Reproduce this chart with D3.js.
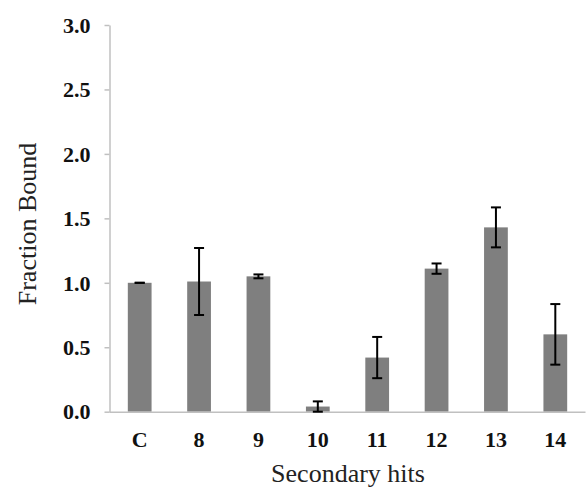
<!DOCTYPE html>
<html>
<head>
<meta charset="utf-8">
<script src="https://cdn.jsdelivr.net/npm/d3@7"></script>
<style>
  html, body { margin: 0; padding: 0; background: #fff; }
  svg { display: block; }
  svg text { font-family: "Liberation Serif", "Times New Roman", "DejaVu Serif", serif; }
</style>
</head>
<body>
<svg id="chart" width="587" height="494"></svg>
<script>
const categories = ["C", "8", "9", "10", "11", "12", "13", "14"];
const values = [1.00, 1.01, 1.05, 0.04, 0.42, 1.11, 1.43, 0.60];
const errors = [0.00, 0.26, 0.015, 0.04, 0.16, 0.04, 0.155, 0.235];
const yTicks = [0, 0.5, 1.0, 1.5, 2.0, 2.5, 3.0];

const svg = d3.select("#chart");
const plotLeft = 109.5, plotRight = 585.5, plotTop = 25, plotBottom = 411.7;

const x = d3.scaleBand().domain(categories).range([110, 585]).paddingInner(0.6).paddingOuter(0.3);
const y = d3.scaleLinear().domain([0, 3]).range([plotBottom, plotTop]);

const font = '"Liberation Serif", "Times New Roman", "DejaVu Serif", serif';
const axisColor = "#c0c0c0";

// Y axis
const yAxis = svg.append("g")
  .attr("transform", `translate(${plotLeft},0)`)
  .call(d3.axisLeft(y).tickValues(yTicks).tickFormat(d3.format(".1f")).tickSize(5).tickSizeOuter(0).tickPadding(14));
yAxis.attr("font-family", null).attr("font-size", null);
yAxis.select(".domain").attr("stroke", axisColor).attr("stroke-width", 1.5);
yAxis.selectAll(".tick line").attr("stroke", axisColor).attr("stroke-width", 1.5);
yAxis.selectAll(".tick text")
  .style("font-family", font).style("font-size", "22px").style("font-weight", "bold")
  .attr("fill", "#111").attr("dy", "0.33em");

// Bars
svg.append("g").selectAll("rect").data(categories).join("rect")
  .attr("x", (d) => x(d))
  .attr("y", (d, i) => y(values[i]))
  .attr("width", x.bandwidth())
  .attr("height", (d, i) => y(0) - y(values[i]))
  .attr("fill", "#7f7f7f");

// X axis
const xAxis = svg.append("g")
  .attr("transform", `translate(0,${plotBottom})`)
  .call(d3.axisBottom(x).tickSize(0).tickSizeOuter(0).tickPadding(0));
xAxis.attr("font-family", null).attr("font-size", null);
xAxis.select(".domain").attr("d", `M${plotLeft},0.5H${plotRight}`).attr("stroke", axisColor).attr("stroke-width", 1.5);
xAxis.selectAll(".tick text")
  .style("font-family", font).style("font-size", "22px").style("font-weight", "bold")
  .attr("fill", "#111").attr("y", 35.5).attr("dy", 0);

// Error bars
const eb = svg.append("g").attr("stroke", "#000").attr("stroke-width", 2).attr("fill", "none");
categories.forEach((c, i) => {
  const cx = x(c) + x.bandwidth() / 2;
  const yHi = y(values[i] + errors[i]);
  const yLo = y(values[i] - errors[i]);
  eb.append("line").attr("x1", cx).attr("x2", cx).attr("y1", yHi).attr("y2", yLo);
  eb.append("line").attr("x1", cx - 5).attr("x2", cx + 5).attr("y1", yHi).attr("y2", yHi);
  eb.append("line").attr("x1", cx - 5).attr("x2", cx + 5).attr("y1", yLo).attr("y2", yLo);
});

// Axis titles
svg.append("text")
  .attr("x", 348).attr("y", 482)
  .attr("text-anchor", "middle")
  .style("font-family", font).style("font-size", "26px").attr("fill", "#222")
  .text("Secondary hits");

svg.append("text")
  .attr("transform", "translate(36,224) rotate(-90)")
  .attr("text-anchor", "middle")
  .style("font-family", font).style("font-size", "26px").attr("fill", "#222")
  .text("Fraction Bound");
</script>
</body>
</html>
